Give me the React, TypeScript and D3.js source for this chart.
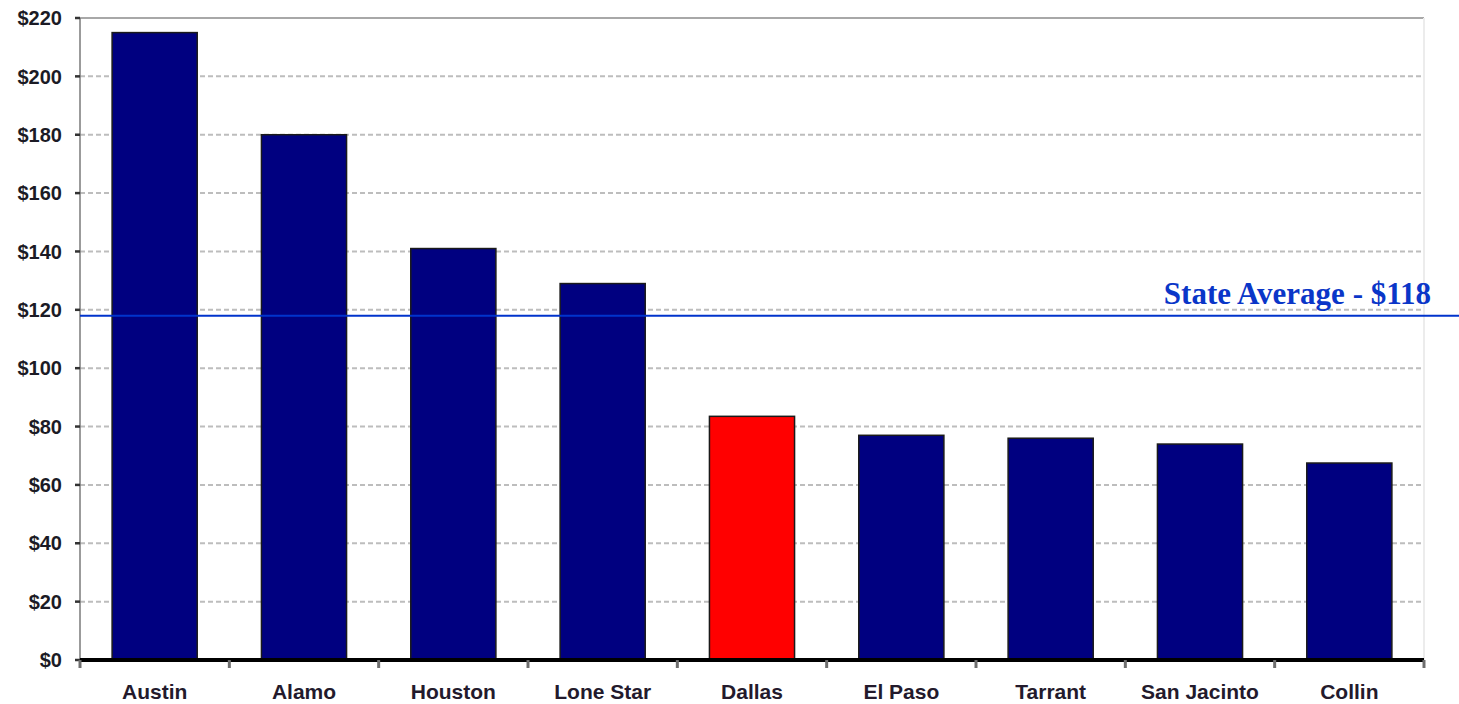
import React from "react";
import * as d3 from "d3";

// Cost per district, in dollars
const districts = ["Austin", "Alamo", "Houston", "Lone Star", "Dallas", "El Paso", "Tarrant", "San Jacinto", "Collin"];
const costs = [215, 180, 141, 129, 83.5, 77, 76, 74, 67.5];
const highlighted = ["Dallas"];
const yTicks = [0, 20, 40, 60, 80, 100, 120, 140, 160, 180, 200, 220];
const stateAverage = 118;
const averageLabel = "State Average - $118";

const W = 1459;
const H = 704;
const margin = { left: 80, right: 35, top: 18, bottom: 44 };

export default function App() {
  const x = d3
    .scaleBand<string>()
    .domain(districts)
    .range([margin.left, W - margin.right])
    .paddingInner(0.43)
    .paddingOuter(0.215);
  const y = d3.scaleLinear().domain([0, 220]).range([H - margin.bottom, margin.top]);

  const x0 = margin.left;
  const x1 = W - margin.right;
  const yBase = y(0);
  const step = x.step();
  const boundaries = d3.range(districts.length + 1).map((i) => x0 + i * step);
  const avgY = y(stateAverage);

  return (
    <div style={{ position: "absolute", left: 0, top: 0, width: W, height: H, background: "#fff" }}>
      <svg width={W} height={H} style={{ display: "block" }}>
        <rect x={0} y={0} width={W} height={H} fill="#fff" />

        {/* horizontal gridlines */}
        {yTicks
          .filter((t) => t > 0 && t < 220)
          .map((t) => (
            <line
              key={`g${t}`}
              x1={x0}
              x2={x1}
              y1={y(t)}
              y2={y(t)}
              stroke="#bdbdbd"
              strokeWidth={2}
              strokeDasharray="5 3"
            />
          ))}
        {/* plot area frame */}
        <line x1={x0} x2={x1} y1={y(220)} y2={y(220)} stroke="#a8a8a8" strokeWidth={2} />
        <line x1={x1} x2={x1} y1={y(220)} y2={yBase} stroke="#ececec" strokeWidth={2} />
        <line x1={x0} x2={x0} y1={y(220)} y2={yBase} stroke="#7a7a7a" strokeWidth={1.5} />

        {/* y ticks and labels */}
        {yTicks.map((t) => (
          <g key={`t${t}`}>
            <line x1={x0 - 5} x2={x0} y1={y(t)} y2={y(t)} stroke="#333" strokeWidth={2.5} />
            <text
              x={62}
              y={y(t)}
              dy="0.36em"
              textAnchor="end"
              fontFamily="'Liberation Sans', Arial, sans-serif"
              fontWeight="bold"
              fontSize={20}
              fill="#1b1b25"
            >
              {`$${t}`}
            </text>
          </g>
        ))}

        {/* bars */}
        {districts.map((d, i) => (
          <rect
            key={d}
            x={x(d)}
            y={y(costs[i])}
            width={x.bandwidth()}
            height={yBase - y(costs[i])}
            fill={highlighted.includes(d) ? "#ff0000" : "#000080"}
            stroke="#1a1a1a"
            strokeWidth={1.5}
          />
        ))}

        {/* x axis */}
        <line x1={x0} x2={x1} y1={yBase} y2={yBase} stroke="#000" strokeWidth={4} />
        {boundaries.map((bx, i) => (
          <line key={`b${i}`} x1={bx} x2={bx} y1={yBase} y2={yBase + 8} stroke="#6e6e6e" strokeWidth={3} />
        ))}
        {districts.map((d) => (
          <text
            key={`l${d}`}
            x={(x(d) as number) + x.bandwidth() / 2}
            y={699}
            textAnchor="middle"
            fontFamily="'Liberation Sans', Arial, sans-serif"
            fontWeight="bold"
            fontSize={21}
            fill="#231a2c"
          >
            {d}
          </text>
        ))}

        {/* state average reference line */}
        <line x1={x0} x2={W} y1={avgY} y2={avgY} stroke="#0033cc" strokeWidth={2} />
        <text
          x={1431}
          y={avgY - 12}
          textAnchor="end"
          fontFamily="'Liberation Serif', 'Times New Roman', serif"
          fontWeight="bold"
          fontSize={31}
          fill="#0a36c8"
        >
          {averageLabel}
        </text>
      </svg>
    </div>
  );
}
